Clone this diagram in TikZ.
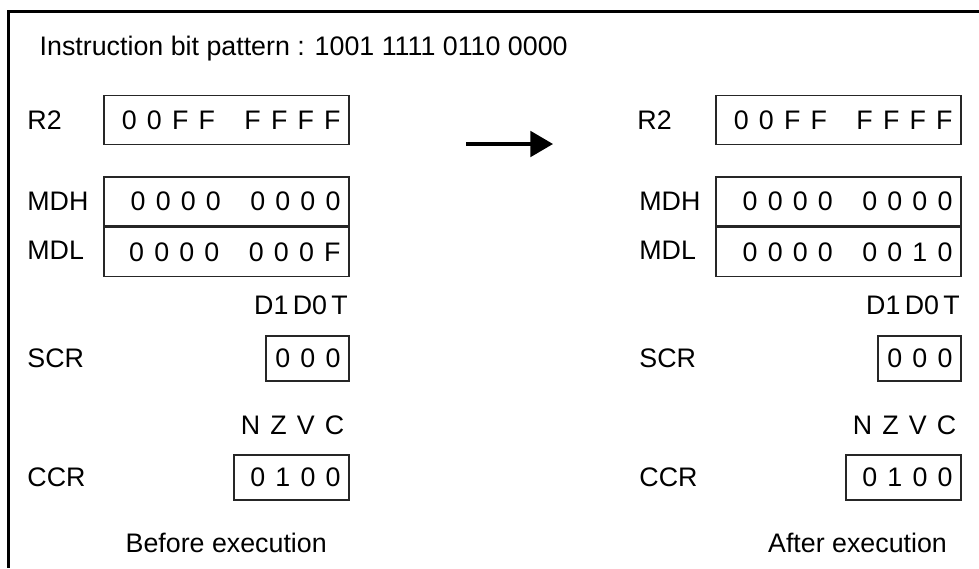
\documentclass[tikz,border=0pt]{standalone}
\usepackage{fontspec}
\setmainfont{Liberation Sans}
\usetikzlibrary{arrows.meta,positioning}

% spacing of the register digits
\newcommand{\dg}{\hspace{0.38em}}
\newcommand{\grp}{\hspace{1.1em}}
\newcommand{\nb}{\hspace{0.16em}}

\begin{document}
\begin{tikzpicture}[
    x=0.5pt, y=-0.5pt,
    font=\fontsize{13.4}{16}\selectfont,
    reg/.style={draw=black!85, line width=0.7pt, inner xsep=4.25pt, inner ysep=0pt, text width=#1, align=right, minimum height=22.5pt},
    longreg/.style={reg=114pt, minimum height=24.5pt},
    lab/.style={anchor=west, inner sep=0pt},
    hdr/.style={inner sep=0pt},
    caption/.style={anchor=base, inner sep=0pt},
    arr/.style={-{Triangle[length=11.3pt,width=12.8pt]}, line width=1.6pt}
]
\useasboundingbox (0,0) rectangle (979,568);
\draw[line width=1.35pt] (979,11.3) -- (8.7,11.3) -- (8.7,568);

\node[anchor=base west, inner sep=0pt] (title) at (39.3,55.3) {Instruction bit pattern : 1001 1111 0110 0000};

% before
\node[longreg] (r2a) at (226.5,120) {0\dg 0\dg F\dg F\grp F\dg F\dg F\dg F};
\node[longreg] (mdha) at (226.5,201.5) {0\dg 0\dg 0\dg 0\grp 0\dg 0\dg 0\dg 0};
\node[longreg, below=0pt of mdha] (mdla) {0\dg 0\dg 0\dg 0\grp 0\dg 0\dg 0\dg F};
\node[reg=33pt] (scra) at (307.5,358.5) {0\dg 0\dg 0};
\node[reg=49pt] (ccra) at (291.5,477.5) {0\dg 1\dg 0\dg 0};
\node[hdr, above left=10.1pt and 0.8pt of scra.north east] (flga) {D1\nb D0\nb T};
\node[hdr, above left=9.7pt and 2.5pt of ccra.north east] (ccfa) {N\dg Z\dg V\dg C};

\node[lab] (r2la) at (27,120) {R2};
\node[lab] (mdhla) at (27,201.5) {MDH};
\node[lab] (mdlla) at (27,250.5) {MDL};
\node[lab] (scrla) at (27,358.5) {SCR};
\node[lab] (ccrla) at (27,477.5) {CCR};
\node[caption] (before) at (226.2,552.6) {Before execution};

% after
\node[longreg] (r2b) at (838.5,120) {0\dg 0\dg F\dg F\grp F\dg F\dg F\dg F};
\node[longreg] (mdhb) at (838.5,201.5) {0\dg 0\dg 0\dg 0\grp 0\dg 0\dg 0\dg 0};
\node[longreg, below=0pt of mdhb] (mdlb) {0\dg 0\dg 0\dg 0\grp 0\dg 0\dg 1\dg 0};
\node[reg=33pt] (scrb) at (919.5,358.5) {0\dg 0\dg 0};
\node[reg=49pt] (ccrb) at (903.5,477.5) {0\dg 1\dg 0\dg 0};
\node[hdr, above left=10.1pt and 0.8pt of scrb.north east] (flgb) {D1\nb D0\nb T};
\node[hdr, above left=9.7pt and 2.5pt of ccrb.north east] (ccfb) {N\dg Z\dg V\dg C};

\node[lab] (r2lb) at (637,120) {R2};
\node[lab] (mdhlb) at (639,201.5) {MDH};
\node[lab] (mdllb) at (639,250.5) {MDL};
\node[lab] (scrlb) at (639,358.5) {SCR};
\node[lab] (ccrlb) at (639,477.5) {CCR};
\node[caption] (after) at (857.5,552.6) {After execution};

\coordinate (go1) at (466,144);
\coordinate (go2) at (553,144);
\draw[arr] (go1) -- (go2);
\end{tikzpicture}
\end{document}
